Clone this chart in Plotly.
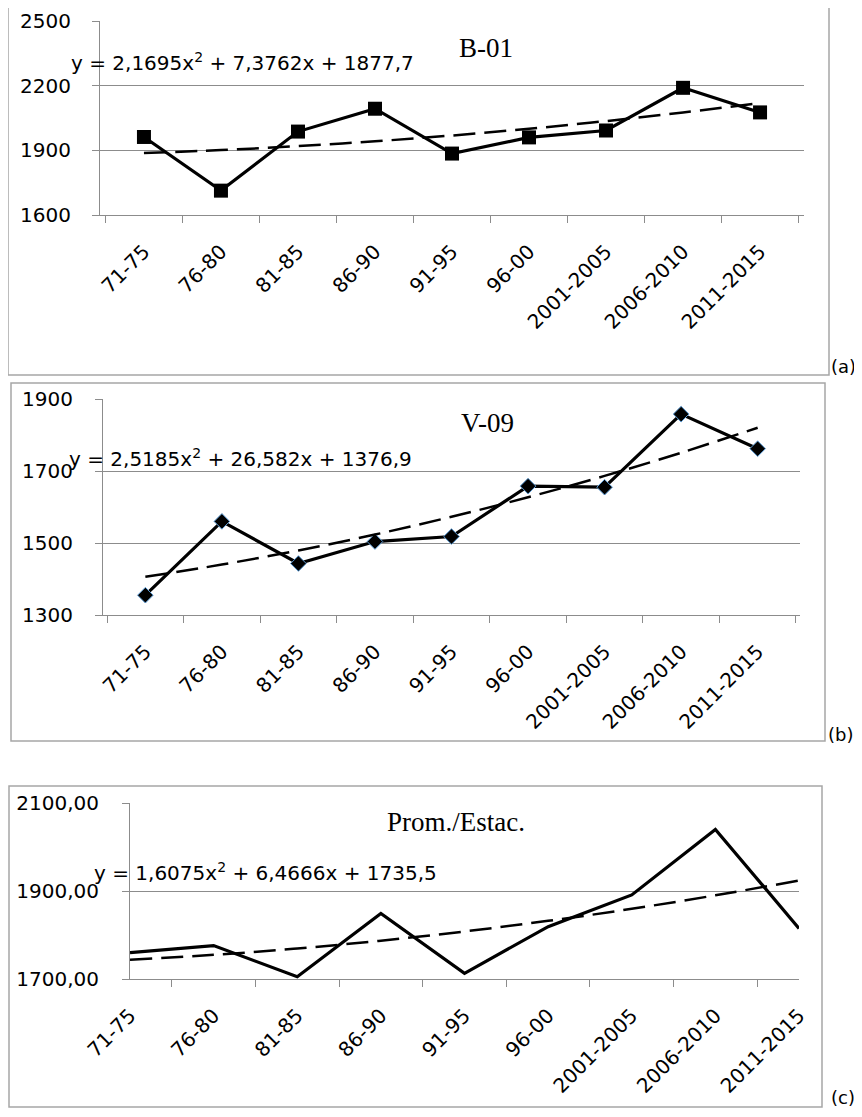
import plotly.graph_objects as go

# ---------------- data ----------------
periods = ["71-75", "76-80", "81-85", "86-90", "91-95", "96-00",
           "2001-2005", "2006-2010", "2011-2015"]

b01_values = [1962, 1713, 1987, 2093, 1885, 1960, 1992, 2190, 2076]
v09_values = [1355, 1560, 1443, 1504, 1518, 1658, 1655, 1858, 1762]
prom_values = [1760, 1776, 1705, 1849, 1713, 1819, 1891, 2040, 1815]

# polynomial trendline coefficients (a2, a1, a0) as displayed
b01_coef = [2.1695, 7.3762, 1877.7]
v09_coef = [2.5185, 26.582, 1376.9]
prom_coef = [1.6075, 6.4666, 1735.5]

b01_eq = "y = 2,1695x<sup>2</sup> + 7,3762x + 1877,7"
v09_eq = "y = 2,5185x<sup>2</sup> + 26,582x + 1376,9"
prom_eq = "y = 1,6075x<sup>2</sup> + 6,4666x + 1735,5"

titles = ["B-01", "V-09", "Prom./Estac."]
panel_tags = ["(a)", "(b)", "(c)"]


def trend(coef, n):
    return [coef[0] * k * k + coef[1] * k + coef[2] for k in range(1, n + 1)]


# page body has an 8px margin; the figure sits at (8, 8)
OFF = 8
W, H = 854, 1101
GRID = "#8c8c8c"
BOX = "#a6a6a6"
TICKFONT = dict(family="DejaVu Sans", size=20, color="black")


def px_x(p):
    return (p - OFF) / W


def px_y(p):
    return 1 - (p - OFF) / H


fig = go.Figure()

panels = [
    dict(vals=b01_values, coef=b01_coef, eq=b01_eq,
         dom=(100, 804, 21, 215), rng=[1600, 2500], dtick=300, fmt="",
         marker=dict(symbol="square", size=14, color="black"), ylab=17,
         eqpos=(-0.044, 0.789), tpos=(0.507, 0.861),
         box=(8, 829, 5, 375), tag=(829, 366)),
    dict(vals=v09_values, coef=v09_coef, eq=v09_eq,
         dom=(103, 800, 399, 615), rng=[1300, 1900], dtick=200, fmt="",
         marker=dict(symbol="diamond", size=12, color="black",
                     line=dict(color="#5B9BD5", width=1)), ylab=18,
         eqpos=(-0.052, 0.727), tpos=(0.511, 0.889),
         box=(11, 825, 383, 741), tag=(826, 734)),
    dict(vals=prom_values, coef=prom_coef, eq=prom_eq,
         dom=(130, 799, 803, 979), rng=[1700, 2100], dtick=200, fmt=".2f",
         marker=None, ylab=19,
         eqpos=(-0.057, 0.608), tpos=(0.381, 0.892),
         box=(9, 822, 786, 1107), tag=(829, 1097)),
]

for i, p in enumerate(panels):
    n = "" if i == 0 else str(i + 1)
    xa, ya = "x" + n, "y" + n
    mode = "lines+markers" if p["marker"] else "lines"
    kw = dict(marker=p["marker"]) if p["marker"] else {}
    fig.add_trace(go.Scatter(x=periods, y=p["vals"], mode=mode,
                             line=dict(color="black", width=3.2),
                             xaxis=xa, yaxis=ya, **kw))
    fig.add_trace(go.Scatter(x=periods, y=trend(p["coef"], len(periods)),
                             mode="lines",
                             line=dict(color="black", width=2.5,
                                       dash="22px,9px", shape="spline"),
                             xaxis=xa, yaxis=ya))
    x0, x1, y0, y1 = p["dom"]
    fig.update_layout(**{
        "xaxis" + n: dict(domain=[px_x(x0), px_x(x1)], anchor=ya,
                          type="category", tickson="boundaries",
                          ticks="outside", ticklen=7, tickcolor=GRID,
                          showline=True, linecolor=GRID, linewidth=1,
                          showgrid=False, tickangle=-45, automargin=False,
                          ticklabelstandoff=16, tickfont=TICKFONT),
        "yaxis" + n: dict(domain=[px_y(y1), px_y(y0)], anchor=xa,
                          range=p["rng"], dtick=p["dtick"], tick0=p["rng"][0],
                          tickformat=p["fmt"], automargin=False,
                          ticks="outside", ticklen=7, tickcolor=GRID,
                          showline=True, linecolor=GRID, linewidth=1,
                          showgrid=True, gridcolor=GRID, gridwidth=1,
                          zeroline=False, ticklabelstandoff=p["ylab"],
                          tickfont=TICKFONT),
    })
    # equation and title
    fig.add_annotation(text=p["eq"], xref=xa + " domain", yref=ya + " domain",
                       x=p["eqpos"][0], y=p["eqpos"][1], xanchor="left",
                       yanchor="middle", showarrow=False,
                       font=dict(family="DejaVu Sans", size=20, color="black"))
    fig.add_annotation(text=titles[i], xref=xa + " domain", yref=ya + " domain",
                       x=p["tpos"][0], y=p["tpos"][1], xanchor="left",
                       yanchor="middle", showarrow=False,
                       font=dict(family="Liberation Serif", size=27,
                                 color="black"))
    bx0, bx1, by0, by1 = p["box"]
    fig.add_shape(type="rect", xref="paper", yref="paper",
                  x0=px_x(bx0), x1=px_x(bx1), y0=px_y(by1), y1=px_y(by0),
                  line=dict(color=BOX, width=1.5), fillcolor="rgba(0,0,0,0)")
    fig.add_annotation(text=panel_tags[i], xref="paper", yref="paper",
                       x=px_x(p["tag"][0]), y=px_y(p["tag"][1]),
                       xanchor="left", yanchor="middle", showarrow=False,
                       font=dict(family="DejaVu Sans", size=18, color="black"))

fig.update_layout(width=W, height=H, margin=dict(l=0, r=0, t=0, b=0),
                  paper_bgcolor="white", plot_bgcolor="white",
                  showlegend=False, separators=", ")

fig.write_html("out.html")
